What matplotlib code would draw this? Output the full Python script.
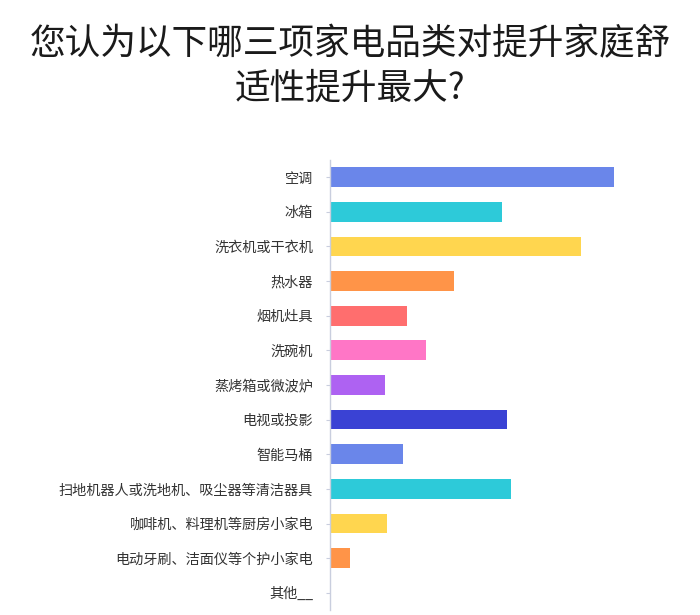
import matplotlib
matplotlib.use("Agg")
import matplotlib.pyplot as plt

plt.rcParams['font.family'] = ['Noto Sans CJK SC', 'DejaVu Sans']

# 数据（从图中估读，单位为相对长度）
categories = ['空调', '冰箱', '洗衣机或干衣机', '热水器', '烟机灶具', '洗碗机',
              '蒸烤箱或微波炉', '电视或投影', '智能马桶',
              '扫地机器人或洗地机、吸尘器等清洁器具', '咖啡机、料理机等厨房小家电',
              '电动牙刷、洁面仪等个护小家电', '其他__']
values = [63.5, 38.5, 56.1, 27.7, 17.3, 21.5, 12.3, 39.6, 16.3, 40.5, 12.7, 4.5, 0.2]
colors = ['#6A86EA', '#2DCAD9', '#FFD64F', '#FF9448', '#FF6E6E', '#FF76C6',
          '#AE62F2', '#3A42D4', '#6A86EA', '#2DCAD9', '#FFD64F', '#FF9448', '#FF6E6E']

fig = plt.figure(figsize=(7, 6.15), dpi=100)
ax = fig.add_axes([0.471, 0.008, 0.4795, 0.732])

ypos = list(range(len(categories)))
ax.barh(ypos, values, height=0.57, color=colors)
ax.set_yticks(ypos)
ax.set_yticklabels(categories, fontsize=10.2, color='#333333')
ax.set_ylim(len(categories) - 0.5, -0.5)
ax.set_xlim(0, 75)

for s in ['top', 'right', 'bottom']:
    ax.spines[s].set_visible(False)
ax.spines['left'].set_color('#c9cede')
ax.spines['left'].set_linewidth(1)
ax.set_xticks([])
ax.tick_params(axis='y', length=3, width=0.8, color='#c9cede', pad=9)

fig.text(0.5, 0.957, '您认为以下哪三项家电品类对提升家庭舒\n适性提升最大?',
         ha='center', va='top', fontsize=25.7, color='#1a1a1a', linespacing=1.28)

fig.savefig('out.png', dpi=100, facecolor='white')
